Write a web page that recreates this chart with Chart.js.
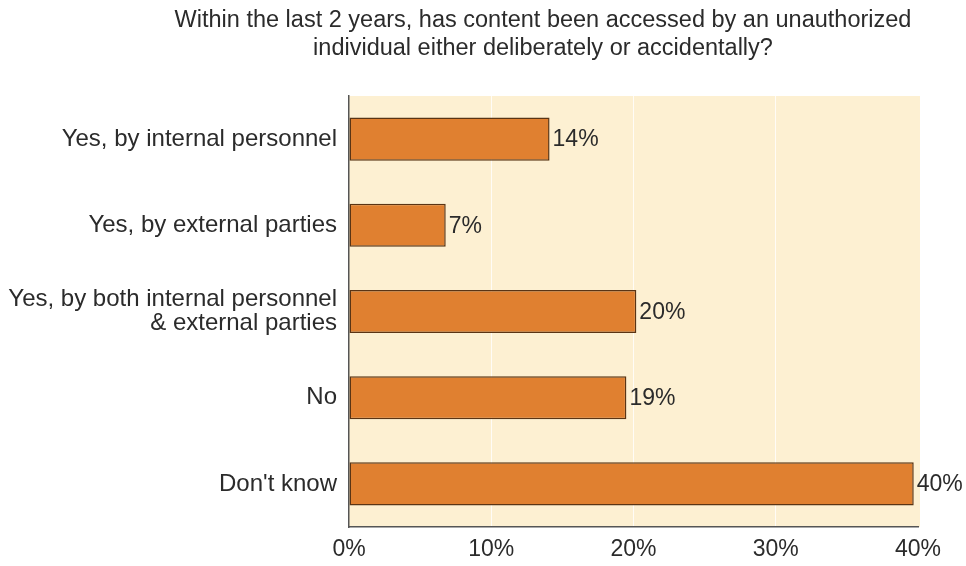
<!DOCTYPE html>
<html>
<head>
<meta charset="utf-8">
<script src="https://cdn.jsdelivr.net/npm/chart.js@4"></script>
<style>
  html, body { margin: 0; padding: 0; background: #fff; }
  #wrap { width: 966px; height: 566px; }
</style>
</head>
<body>
<div id="wrap"><canvas id="chart"></canvas></div>
<script>
// Categorias, comprimentos das barras (%) e rótulos impressos
const categories = [
    'Yes, by internal personnel',
    'Yes, by external parties',
    ['Yes, by both internal personnel', '& external parties'],
    'No',
    "Don't know"
];
const barValues = [14.1, 6.8, 20.2, 19.5, 39.7];
const barLabels = ['14%', '7%', '20%', '19%', '40%'];
const xTicks = [0, 10, 20, 30, 40];

const titleLines = [
    'Within the last 2 years, has content been accessed by an unauthorized',
    'individual either deliberately or accidentally?'
];

const FONT = '"Liberation Sans", Arial, Helvetica, sans-serif';
const TEXT = '#2b2b2b';

// Fundo creme da área do gráfico
const plotBg = {
    id: 'plotBg',
    beforeDraw(chart) {
        const { ctx, chartArea: a } = chart;
        ctx.save();
        ctx.fillStyle = '#fdf0d2';
        ctx.fillRect(a.left, a.top, a.right - a.left + 2, a.bottom - a.top);
        ctx.restore();
    }
};

// Título em duas linhas, centrado em x = 543
const titlePlugin = {
    id: 'titlePlugin',
    afterDraw(chart) {
        const { ctx } = chart;
        ctx.save();
        ctx.font = '23.5px ' + FONT;
        ctx.fillStyle = TEXT;
        ctx.textAlign = 'center';
        ctx.textBaseline = 'middle';
        titleLines.forEach((line, i) => ctx.fillText(line, 543, 21 + i * 28));
        ctx.restore();
    }
};

// Rótulos de valor no fim de cada barra
const valueLabels = {
    id: 'valueLabels',
    afterDatasetsDraw(chart) {
        const { ctx } = chart;
        const meta = chart.getDatasetMeta(0);
        ctx.save();
        ctx.font = '23px ' + FONT;
        ctx.fillStyle = TEXT;
        ctx.textAlign = 'left';
        ctx.textBaseline = 'middle';
        meta.data.forEach((bar, i) => {
            ctx.fillText(barLabels[i], bar.x + 3, bar.y + 1);
        });
        ctx.restore();
    }
};

new Chart(document.getElementById('chart'), {
    type: 'bar',
    data: {
        labels: categories,
        datasets: [{
            data: barValues,
            backgroundColor: '#e08030',
            borderColor: '#5a3414',
            borderWidth: 1.5,
            borderSkipped: false,
            barPercentage: 0.5,
            categoryPercentage: 1
        }]
    },
    options: {
        indexAxis: 'y',
        responsive: true,
        maintainAspectRatio: false,
        animation: false,
        layout: { padding: { top: 96, right: 48, left: 0, bottom: 0 } },
        plugins: {
            legend: { display: false },
            tooltip: { enabled: false },
            title: { display: false }
        },
        scales: {
            x: {
                min: 0,
                max: 40,
                afterBuildTicks(scale) {
                    scale.ticks = xTicks.map(v => ({ value: v }));
                },
                afterFit(scale) { scale.height = 39; },
                grid: {
                    color: ctx => (ctx.tick && ctx.tick.value > 0 && ctx.tick.value < 40) ? 'rgba(255,255,255,0.8)' : 'rgba(0,0,0,0)',
                    lineWidth: 1,
                    drawTicks: false
                },
                border: { display: true, color: '#555', width: 1.5 },
                ticks: {
                    color: TEXT,
                    padding: 9,
                    font: { family: FONT, size: 23 },
                    callback: v => v + '%'
                }
            },
            y: {
                afterFit(scale) { scale.width = 349; },
                grid: { display: false, drawTicks: false },
                border: { display: true, color: '#555', width: 1.5 },
                ticks: {
                    color: TEXT,
                    padding: 12,
                    font: { family: FONT, size: 24, lineHeight: 1.02 }
                }
            }
        }
    },
    plugins: [plotBg, valueLabels, titlePlugin]
});
</script>
</body>
</html>
